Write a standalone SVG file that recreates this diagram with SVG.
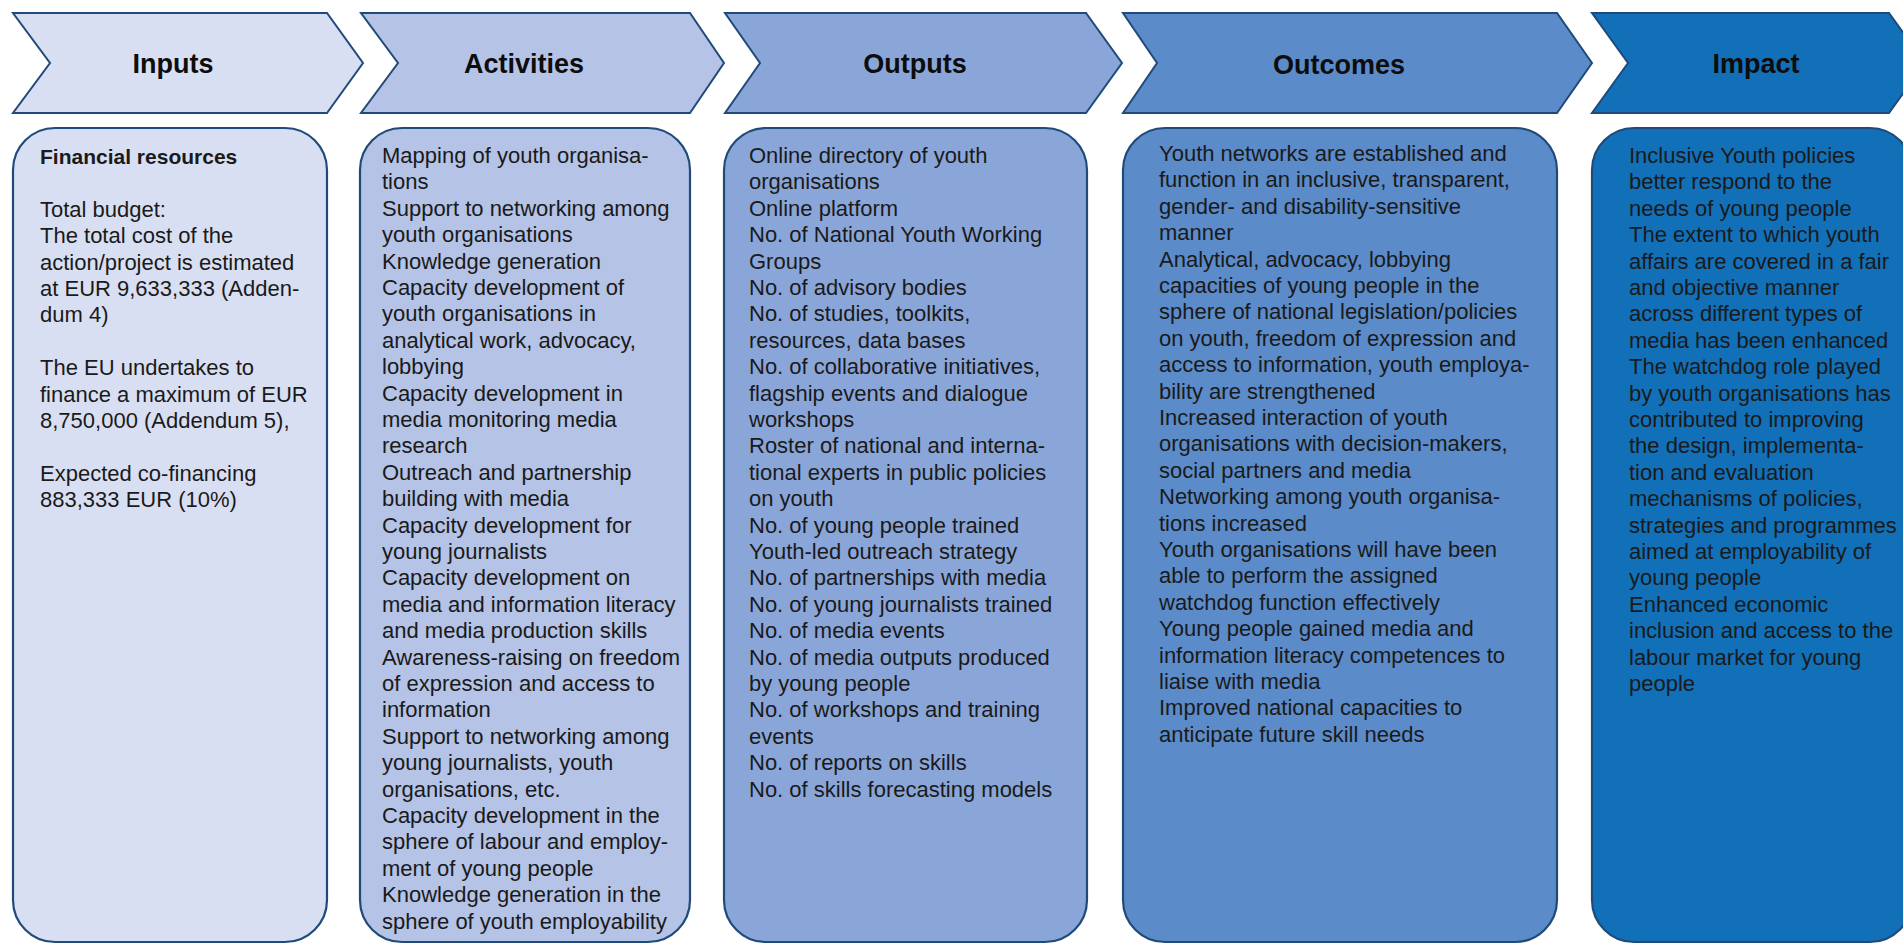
<svg xmlns="http://www.w3.org/2000/svg" width="1903" height="944" viewBox="0 0 1903 944">
<style>
.chev{stroke:#1F4A7A;stroke-width:2;stroke-linejoin:miter}
.box{stroke:#1F4A7A;stroke-width:2.2}
.hd{font-family:"Liberation Sans",Arial,sans-serif;font-weight:bold;font-size:27px;fill:#0d0d0d;text-anchor:middle}
.tx{font-family:"Liberation Sans",Arial,sans-serif;font-size:22px;fill:#1a1a1a}
.b{font-weight:bold;font-size:21px}
.c1{fill:#D9DFF2}.c2{fill:#B4C3E6}.c3{fill:#8AA6D8}.c4{fill:#5B8BC8}.c5{fill:#1170B8}
</style>
<rect width="1903" height="944" fill="#ffffff"/>

<g id="inputs">
<path class="chev c1" d="M13,13 L327,13 L363,63 L327,113 L13,113 L50,63 Z"/>
<text class="hd" x="173" y="73">Inputs</text>
<rect class="box c1" x="13" y="128" width="314" height="814" rx="42"/>
<text class="tx" x="40" y="164"><tspan class="b">Financial resources</tspan><tspan x="40" dy="52.8">Total budget:</tspan><tspan x="40" dy="26.4">The total cost of the</tspan><tspan x="40" dy="26.4">action/project is estimated</tspan><tspan x="40" dy="26.4">at EUR 9,633,333 (Adden-</tspan><tspan x="40" dy="26.4">dum 4)</tspan><tspan x="40" dy="52.8">The EU undertakes to</tspan><tspan x="40" dy="26.4">finance a maximum of EUR</tspan><tspan x="40" dy="26.4">8,750,000 (Addendum 5),</tspan><tspan x="40" dy="52.8">Expected co-financing</tspan><tspan x="40" dy="26.4">883,333 EUR (10%)</tspan></text>
</g>

<g id="activities">
<path class="chev c2" d="M361,13 L690,13 L724,63 L690,113 L361,113 L398,63 Z"/>
<text class="hd" x="524" y="73">Activities</text>
<rect class="box c2" x="360" y="128" width="330" height="814" rx="42"/>
<text class="tx" x="382" y="163"><tspan x="382">Mapping of youth organisa-</tspan><tspan x="382" dy="26.4">tions</tspan><tspan x="382" dy="26.4">Support to networking among</tspan><tspan x="382" dy="26.4">youth organisations</tspan><tspan x="382" dy="26.4">Knowledge generation</tspan><tspan x="382" dy="26.4">Capacity development of</tspan><tspan x="382" dy="26.4">youth organisations in</tspan><tspan x="382" dy="26.4">analytical work, advocacy,</tspan><tspan x="382" dy="26.4">lobbying</tspan><tspan x="382" dy="26.4">Capacity development in</tspan><tspan x="382" dy="26.4">media monitoring media</tspan><tspan x="382" dy="26.4">research</tspan><tspan x="382" dy="26.4">Outreach and partnership</tspan><tspan x="382" dy="26.4">building with media</tspan><tspan x="382" dy="26.4">Capacity development for</tspan><tspan x="382" dy="26.4">young journalists</tspan><tspan x="382" dy="26.4">Capacity development on</tspan><tspan x="382" dy="26.4">media and information literacy</tspan><tspan x="382" dy="26.4">and media production skills</tspan><tspan x="382" dy="26.4">Awareness-raising on freedom</tspan><tspan x="382" dy="26.4">of expression and access to</tspan><tspan x="382" dy="26.4">information</tspan><tspan x="382" dy="26.4">Support to networking among</tspan><tspan x="382" dy="26.4">young journalists, youth</tspan><tspan x="382" dy="26.4">organisations, etc.</tspan><tspan x="382" dy="26.4">Capacity development in the</tspan><tspan x="382" dy="26.4">sphere of labour and employ-</tspan><tspan x="382" dy="26.4">ment of young people</tspan><tspan x="382" dy="26.4">Knowledge generation in the</tspan><tspan x="382" dy="26.4">sphere of youth employability</tspan></text>
</g>

<g id="outputs">
<path class="chev c3" d="M725,13 L1086,13 L1122,63 L1086,113 L725,113 L760,63 Z"/>
<text class="hd" x="915" y="73">Outputs</text>
<rect class="box c3" x="724" y="128" width="363" height="814" rx="42"/>
<text class="tx" x="749" y="163"><tspan x="749">Online directory of youth</tspan><tspan x="749" dy="26.4">organisations</tspan><tspan x="749" dy="26.4">Online platform</tspan><tspan x="749" dy="26.4">No. of National Youth Working</tspan><tspan x="749" dy="26.4">Groups</tspan><tspan x="749" dy="26.4">No. of advisory bodies</tspan><tspan x="749" dy="26.4">No. of studies, toolkits,</tspan><tspan x="749" dy="26.4">resources, data bases</tspan><tspan x="749" dy="26.4">No. of collaborative initiatives,</tspan><tspan x="749" dy="26.4">flagship events and dialogue</tspan><tspan x="749" dy="26.4">workshops</tspan><tspan x="749" dy="26.4">Roster of national and interna-</tspan><tspan x="749" dy="26.4">tional experts in public policies</tspan><tspan x="749" dy="26.4">on youth</tspan><tspan x="749" dy="26.4">No. of young people trained</tspan><tspan x="749" dy="26.4">Youth-led outreach strategy</tspan><tspan x="749" dy="26.4">No. of partnerships with media</tspan><tspan x="749" dy="26.4">No. of young journalists trained</tspan><tspan x="749" dy="26.4">No. of media events</tspan><tspan x="749" dy="26.4">No. of media outputs produced</tspan><tspan x="749" dy="26.4">by young people</tspan><tspan x="749" dy="26.4">No. of workshops and training</tspan><tspan x="749" dy="26.4">events</tspan><tspan x="749" dy="26.4">No. of reports on skills</tspan><tspan x="749" dy="26.4">No. of skills forecasting models</tspan></text>
</g>

<g id="outcomes">
<path class="chev c4" d="M1123,13 L1557,13 L1592,63 L1557,113 L1123,113 L1157,63 Z"/>
<text class="hd" x="1339" y="74">Outcomes</text>
<rect class="box c4" x="1123" y="128" width="434" height="814" rx="42"/>
<text class="tx" x="1159" y="161"><tspan x="1159">Youth networks are established and</tspan><tspan x="1159" dy="26.4">function in an inclusive, transparent,</tspan><tspan x="1159" dy="26.4">gender- and disability-sensitive</tspan><tspan x="1159" dy="26.4">manner</tspan><tspan x="1159" dy="26.4">Analytical, advocacy, lobbying</tspan><tspan x="1159" dy="26.4">capacities of young people in the</tspan><tspan x="1159" dy="26.4">sphere of national legislation/policies</tspan><tspan x="1159" dy="26.4">on youth, freedom of expression and</tspan><tspan x="1159" dy="26.4">access to information, youth employa-</tspan><tspan x="1159" dy="26.4">bility are strengthened</tspan><tspan x="1159" dy="26.4">Increased interaction of youth</tspan><tspan x="1159" dy="26.4">organisations with decision-makers,</tspan><tspan x="1159" dy="26.4">social partners and media</tspan><tspan x="1159" dy="26.4">Networking among youth organisa-</tspan><tspan x="1159" dy="26.4">tions increased</tspan><tspan x="1159" dy="26.4">Youth organisations will have been</tspan><tspan x="1159" dy="26.4">able to perform the assigned</tspan><tspan x="1159" dy="26.4">watchdog function effectively</tspan><tspan x="1159" dy="26.4">Young people gained media and</tspan><tspan x="1159" dy="26.4">information literacy competences to</tspan><tspan x="1159" dy="26.4">liaise with media</tspan><tspan x="1159" dy="26.4">Improved national capacities to</tspan><tspan x="1159" dy="26.4">anticipate future skill needs</tspan></text>
</g>

<g id="impact">
<path class="chev c5" d="M1592,13 L1889,13 L1925,63 L1889,113 L1592,113 L1628,63 Z"/>
<text class="hd" x="1756" y="73">Impact</text>
<rect class="box c5" x="1592" y="128" width="320" height="814" rx="42"/>
<text class="tx" x="1629" y="163"><tspan x="1629">Inclusive Youth policies</tspan><tspan x="1629" dy="26.4">better respond to the</tspan><tspan x="1629" dy="26.4">needs of young people</tspan><tspan x="1629" dy="26.4">The extent to which youth</tspan><tspan x="1629" dy="26.4">affairs are covered in a fair</tspan><tspan x="1629" dy="26.4">and objective manner</tspan><tspan x="1629" dy="26.4">across different types of</tspan><tspan x="1629" dy="26.4">media has been enhanced</tspan><tspan x="1629" dy="26.4">The watchdog role played</tspan><tspan x="1629" dy="26.4">by youth organisations has</tspan><tspan x="1629" dy="26.4">contributed to improving</tspan><tspan x="1629" dy="26.4">the design, implementa-</tspan><tspan x="1629" dy="26.4">tion and evaluation</tspan><tspan x="1629" dy="26.4">mechanisms of policies,</tspan><tspan x="1629" dy="26.4">strategies and programmes</tspan><tspan x="1629" dy="26.4">aimed at employability of</tspan><tspan x="1629" dy="26.4">young people</tspan><tspan x="1629" dy="26.4">Enhanced economic</tspan><tspan x="1629" dy="26.4">inclusion and access to the</tspan><tspan x="1629" dy="26.4">labour market for young</tspan><tspan x="1629" dy="26.4">people</tspan></text>
</g>

<g id="connectors"></g>
</svg>
